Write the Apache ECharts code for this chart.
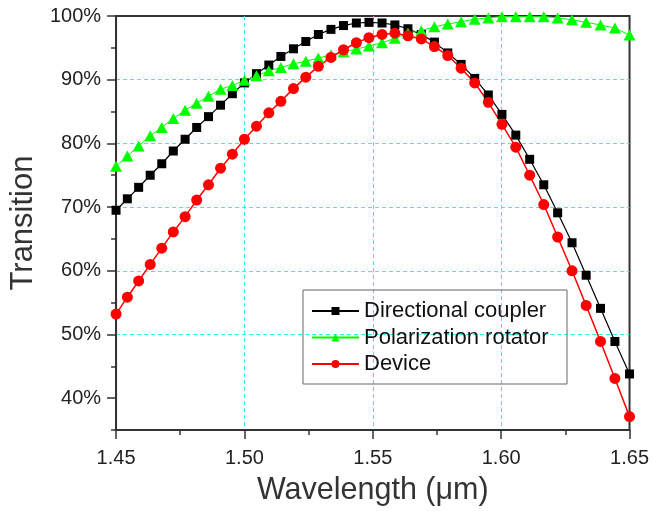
<!DOCTYPE html>
<html>
<head>
<meta charset="utf-8">
<script src="https://cdn.jsdelivr.net/npm/echarts@6/dist/echarts.min.js"></script>
<style>
  html, body { margin: 0; padding: 0; background: #fff; }
  #main { width: 652px; height: 511px; }
</style>
</head>
<body>
<div id="main"></div>
<script>
// wavelengths (um) of the sample points
var wavelength = [1.4500, 1.4544, 1.4588, 1.4633, 1.4678, 1.4723, 1.4769, 1.4814, 1.4860, 1.4907,
  1.4953, 1.5000, 1.5047, 1.5095, 1.5142, 1.5191, 1.5239, 1.5288, 1.5337, 1.5386,
  1.5436, 1.5485, 1.5536, 1.5586, 1.5637, 1.5689, 1.5740, 1.5792, 1.5844, 1.5897,
  1.5950, 1.6003, 1.6057, 1.6111, 1.6166, 1.6220, 1.6276, 1.6331, 1.6387, 1.6443, 1.6500];

// transition (%)
var coupler = [69.5, 71.3, 73.1, 75.0, 76.8, 78.8, 80.65, 82.5, 84.2, 86.0,
  87.8, 89.5, 90.95, 92.3, 93.65, 94.85, 96.0, 97.1, 97.9, 98.5,
  98.9, 99.0, 98.9, 98.6, 98.0, 97.1, 95.9, 94.2, 92.4, 90.2,
  87.6, 84.55, 81.3, 77.5, 73.5, 69.1, 64.4, 59.3, 54.1, 48.9, 43.8];
var rotator = [76.4, 78.0, 79.6, 81.2, 82.5, 83.9, 85.2, 86.3, 87.4, 88.5,
  89.1, 89.9, 90.6, 91.4, 91.9, 92.5, 92.9, 93.4, 93.9, 94.4,
  94.8, 95.3, 95.8, 96.5, 97.3, 97.7, 98.3, 98.75, 99.1, 99.5,
  99.7, 99.9, 99.9, 99.9, 99.9, 99.7, 99.4, 99.0, 98.6, 98.1, 97.0];
var device = [53.2, 55.85, 58.4, 61.0, 63.55, 66.1, 68.5, 71.1, 73.5, 76.1,
  78.3, 80.65, 82.7, 84.8, 86.6, 88.6, 90.4, 92.1, 93.5, 94.7,
  95.8, 96.6, 97.1, 97.3, 96.9, 96.4, 95.2, 93.8, 91.8, 89.5,
  86.45, 83.0, 79.4, 75.0, 70.4, 65.3, 60.0, 54.55, 48.9, 43.1, 37.1];

var yLabelValues = [40, 50, 60, 70, 80, 90, 100];
var seriesNames = ['Directional coupler', 'Polarization rotator', 'Device'];

var font = 'Liberation Sans, Arial, sans-serif';
var axisColor = '#333';
var gridColor = '#33eeee';

function pairs(ys) {
  return wavelength.map(function (w, i) { return [w, ys[i]]; });
}

var chart = echarts.init(document.getElementById('main'));
chart.setOption({
  animation: false,
  backgroundColor: '#fff',
  grid: {
    left: 116, right: 21, top: 16, bottom: 78,
    show: true, borderColor: axisColor, borderWidth: 2
  },
  legend: {
    left: 303, top: 290,
    orient: 'vertical',
    itemWidth: 47, itemHeight: 10, itemGap: 4.5,
    padding: [10, 8, 9, 8],
    borderColor: '#666', borderWidth: 1,
    textStyle: { fontSize: 22, color: '#111', width: 195, lineHeight: 22, fontFamily: font },
    data: seriesNames
  },
  xAxis: [
    {
      // minor ticks
      type: 'value', min: 1.45, max: 1.65, interval: 0.025,
      axisLine: { lineStyle: { color: axisColor, width: 2 } },
      axisTick: { length: 5, lineStyle: { color: axisColor, width: 1.5 } },
      axisLabel: { show: false },
      splitLine: { show: false }
    },
    {
      // major ticks, labels, grid
      type: 'value', position: 'bottom', min: 1.45, max: 1.65, interval: 0.05,
      axisLine: { show: false },
      axisTick: { length: 9, lineStyle: { color: axisColor, width: 1.5 } },
      axisLabel: {
        margin: 18, fontSize: 20, color: '#222', fontFamily: font,
        formatter: function (v) { return v.toFixed(2); }
      },
      splitLine: {
        show: true, showMinLine: false, showMaxLine: false,
        lineStyle: { color: gridColor, type: [4, 3], width: 1 }
      },
      name: 'Wavelength (μm)', nameLocation: 'middle', nameGap: 45,
      nameTextStyle: { fontSize: 30.5, color: '#333', fontFamily: font }
    }
  ],
  yAxis: [
    {
      type: 'value', min: 35, max: 100, interval: 5,
      axisLine: { lineStyle: { color: axisColor, width: 2 } },
      axisTick: { length: 5, lineStyle: { color: axisColor, width: 1.5 } },
      axisLabel: { show: false },
      splitLine: { show: false }
    },
    {
      type: 'value', position: 'left', min: 35, max: 100, interval: 5,
      axisLine: { show: false },
      axisTick: { length: 9, customValues: yLabelValues, lineStyle: { color: axisColor, width: 1.5 } },
      axisLabel: {
        customValues: yLabelValues, formatter: '{value}%',
        margin: 15, fontSize: 20, color: '#222', fontFamily: font
      },
      splitLine: {
        show: true, showMinLine: false, showMaxLine: false,
        lineStyle: { color: gridColor, type: [4, 3], width: 1 }
      },
      name: 'Transition', nameLocation: 'middle', nameGap: 71,
      nameTextStyle: { fontSize: 31, color: '#333', fontFamily: font }
    }
  ],
  series: [
    {
      name: seriesNames[0], type: 'line', data: pairs(coupler),
      symbol: 'rect', symbolSize: 9, color: '#000',
      lineStyle: { width: 1.2, color: '#000' }
    },
    {
      name: seriesNames[1], type: 'line', data: pairs(rotator),
      symbol: 'triangle', symbolSize: [12, 11], color: '#00ff00',
      lineStyle: { width: 1, color: '#00ff00' }
    },
    {
      name: seriesNames[2], type: 'line', data: pairs(device),
      symbol: 'circle', symbolSize: 11, color: '#ff0000',
      lineStyle: { width: 1.5, color: '#ff0000' }
    }
  ]
});
</script>
</body>
</html>
